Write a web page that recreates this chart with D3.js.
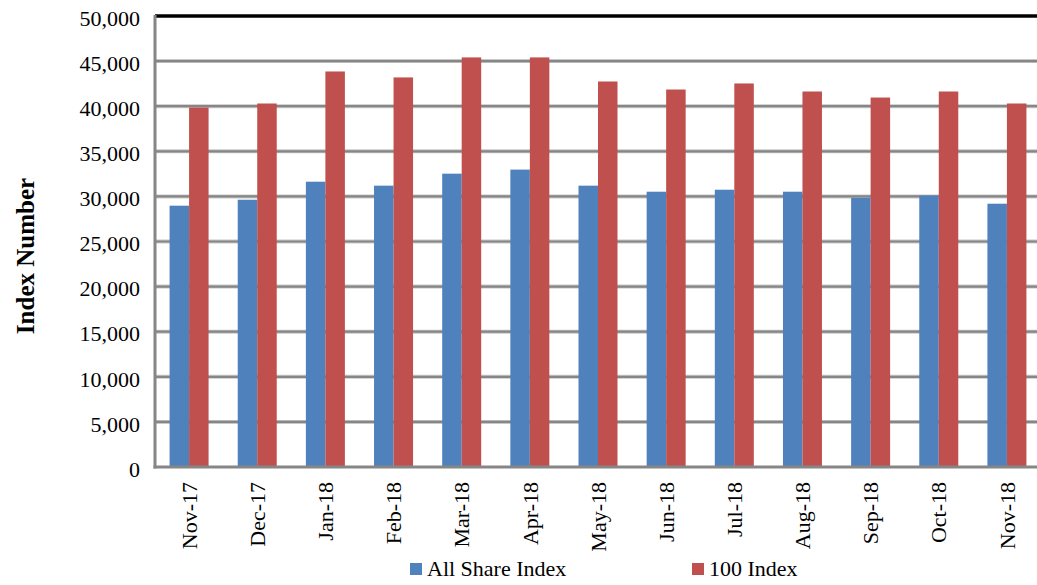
<!DOCTYPE html>
<html>
<head>
<meta charset="utf-8">
<script src="https://cdn.jsdelivr.net/npm/d3@7"></script>
<style>
  body { margin: 0; background: #fff; }
  text { font-family: "Liberation Serif", "Times New Roman", serif; fill: #000; }
</style>
</head>
<body>
<div id="chart"></div>
<script>
var months = ["Nov-17", "Dec-17", "Jan-18", "Feb-18", "Mar-18", "Apr-18", "May-18",
              "Jun-18", "Jul-18", "Aug-18", "Sep-18", "Oct-18", "Nov-18"];
var allShare = [28970, 29630, 31630, 31190, 32520, 32970, 31190, 30520, 30740, 30520, 29850, 30080, 29190];
var index100 = [39850, 40300, 43850, 43190, 45410, 45410, 42740, 41850, 42520, 41630, 40960, 41630, 40300];
var yTicks = [0, 5000, 10000, 15000, 20000, 25000, 30000, 35000, 40000, 45000, 50000];
var seriesNames = ["All Share Index", "100 Index"];
var seriesColors = ["#4f81bd", "#c0504d"];

var W = 1037, H = 585,
    plotLeft = 155, plotRight = 1041, plotTop = 16, plotBottom = 467;

var svg = d3.select("#chart").append("svg")
  .attr("width", W)
  .attr("height", H);

var x = d3.scaleBand().domain(months).range([plotLeft, plotRight]);
var y = d3.scaleLinear().domain([0, 50000]).range([plotBottom, plotTop]);
var barW = 19.5;

var gridTicks = yTicks.filter(function(t) { return t > 0 && t < 50000; });

// gridlines (light halo + darker core)
svg.append("g").selectAll("line")
  .data(gridTicks)
  .enter().append("line")
  .attr("x1", plotLeft).attr("x2", W)
  .attr("y1", function(d) { return y(d); })
  .attr("y2", function(d) { return y(d); })
  .attr("stroke", "#c8c8c8").attr("stroke-width", 4);
svg.append("g").selectAll("line")
  .data(gridTicks)
  .enter().append("line")
  .attr("x1", plotLeft).attr("x2", W)
  .attr("y1", function(d) { return y(d); })
  .attr("y2", function(d) { return y(d); })
  .attr("stroke", "#868686").attr("stroke-width", 2.2);

// bars
var groups = svg.append("g").selectAll("g")
  .data(months)
  .enter().append("g")
  .attr("transform", function(d) { return "translate(" + (x(d) + x.bandwidth() / 2 - barW) + ",0)"; });

groups.append("rect")
  .attr("x", 0)
  .attr("y", function(d, i) { return y(allShare[i]); })
  .attr("width", barW)
  .attr("height", function(d, i) { return y(0) - y(allShare[i]); })
  .attr("fill", seriesColors[0]);

groups.append("rect")
  .attr("x", barW)
  .attr("y", function(d, i) { return y(index100[i]); })
  .attr("width", barW)
  .attr("height", function(d, i) { return y(0) - y(index100[i]); })
  .attr("fill", seriesColors[1]);

// top border
svg.append("line")
  .attr("x1", plotLeft).attr("x2", W)
  .attr("y1", y(50000)).attr("y2", y(50000))
  .attr("stroke", "#000").attr("stroke-width", 3.5);

// axis lines
svg.append("line")
  .attr("x1", plotLeft).attr("x2", plotLeft)
  .attr("y1", y(50000) - 1).attr("y2", y(0) + 1.5)
  .attr("stroke", "#868686").attr("stroke-width", 3);
svg.append("line")
  .attr("x1", plotLeft - 1.5).attr("x2", W)
  .attr("y1", y(0)).attr("y2", y(0))
  .attr("stroke", "#868686").attr("stroke-width", 3);

// y tick labels
var fmt = d3.format(",");
svg.append("g").selectAll("text")
  .data(yTicks)
  .enter().append("text")
  .attr("x", 140)
  .attr("y", function(d) { return y(d) + 2; })
  .attr("dy", "0.35em")
  .attr("text-anchor", "end")
  .style("font-size", "22px")
  .text(function(d) { return fmt(d); });

// x tick labels
svg.append("g").selectAll("text")
  .data(months)
  .enter().append("text")
  .attr("transform", function(d) { return "translate(" + (x(d) + x.bandwidth() / 2) + "," + (plotBottom + 15) + ") rotate(-90)"; })
  .attr("dy", "0.35em")
  .attr("text-anchor", "end")
  .style("font-size", "22px")
  .text(function(d) { return d; });

// y title
svg.append("text")
  .attr("transform", "translate(25,256) rotate(-90)")
  .attr("dy", "0.35em")
  .attr("text-anchor", "middle")
  .style("font-size", "25px")
  .style("font-weight", "bold")
  .text("Index Number");

// legend
var legendX = [410, 692];
var legend = svg.append("g").selectAll("g")
  .data(seriesNames)
  .enter().append("g")
  .attr("transform", function(d, i) { return "translate(" + legendX[i] + ",563)"; });
legend.append("rect")
  .attr("width", 12).attr("height", 12)
  .attr("fill", function(d, i) { return seriesColors[i]; });
legend.append("text")
  .attr("x", 17).attr("y", 13)
  .style("font-size", "22px")
  .text(function(d) { return d; });
</script>
</body>
</html>
